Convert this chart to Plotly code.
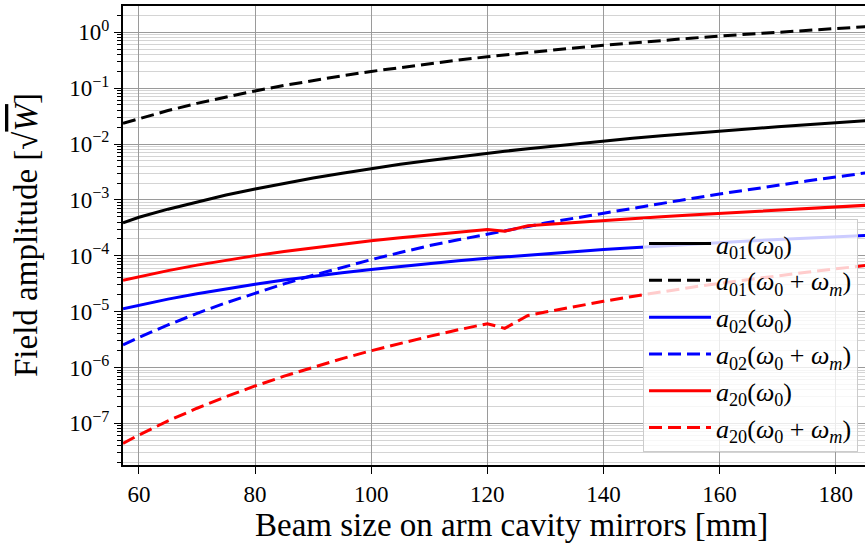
import plotly.graph_objects as go

# Beam size on the arm cavity mirrors [mm]
beam_size_mm = [57.25, 60, 65, 70, 75, 80, 85, 90, 95, 100, 105, 110, 115, 120,
                123, 127, 130, 135, 140, 145, 150, 155, 160, 165, 170, 175, 180, 185.1]

# Field amplitudes [sqrt(W)]
a01_w0 = [3.89e-4, 4.88e-4, 6.82e-4, 9.25e-4, 1.22e-3, 1.57e-3, 1.99e-3, 2.47e-3,
          3.01e-3, 3.63e-3, 4.33e-3, 5.08e-3, 5.93e-3, 6.85e-3, 7.43e-3, 8.26e-3,
          8.91e-3, 1.009e-2, 1.132e-2, 1.265e-2, 1.403e-2, 1.552e-2, 1.706e-2,
          1.871e-2, 2.042e-2, 2.218e-2, 2.404e-2, 2.600e-2]
a01_w0_wm = [0.02344, 0.02858, 0.03972, 0.05346, 0.06998, 0.08933, 0.1119, 0.1377,
             0.1667, 0.1995, 0.2355, 0.2754, 0.3184, 0.3648, 0.3945, 0.4355, 0.4677,
             0.5248, 0.5848, 0.6486, 0.7145, 0.7834, 0.8570, 0.9311, 1.009, 1.089,
             1.175, 1.262]
a02_w0 = [1.122e-5, 1.303e-5, 1.671e-5, 2.094e-5, 2.570e-5, 3.090e-5, 3.673e-5,
          4.295e-5, 4.966e-5, 5.689e-5, 6.457e-5, 7.261e-5, 8.110e-5, 8.995e-5,
          9.528e-5, 1.028e-4, 1.086e-4, 1.186e-4, 1.288e-4, 1.390e-4, 1.500e-4,
          1.607e-4, 1.722e-4, 1.837e-4, 1.950e-4, 2.065e-4, 2.188e-4, 2.312e-4]
a02_w0_wm = [2.547e-6, 3.459e-6, 5.781e-6, 9.290e-6, 1.439e-5, 2.153e-5, 3.141e-5,
             4.467e-5, 6.223e-5, 8.511e-5, 1.143e-4, 1.514e-4, 1.928e-4, 2.455e-4,
             2.818e-4, 3.350e-4, 3.846e-4, 4.732e-4, 5.821e-4, 7.112e-4, 8.670e-4,
             1.052e-3, 1.274e-3, 1.531e-3, 1.828e-3, 2.173e-3, 2.570e-3, 3.034e-3]
a20_w0 = [3.631e-5, 4.217e-5, 5.420e-5, 6.792e-5, 8.337e-5, 1.005e-4, 1.194e-4,
          1.396e-4, 1.618e-4, 1.854e-4, 2.104e-4, 2.371e-4, 2.649e-4, 2.938e-4,
          2.754e-4, 3.428e-4, 3.614e-4, 3.936e-4, 4.266e-4, 4.613e-4, 4.977e-4,
          5.358e-4, 5.754e-4, 6.166e-4, 6.592e-4, 7.031e-4, 7.499e-4, 7.980e-4]
a20_w0_wm = [4.385e-8, 6.194e-8, 1.104e-7, 1.862e-7, 3.006e-7, 4.667e-7, 6.982e-7,
             1.016e-6, 1.439e-6, 1.995e-6, 2.704e-6, 3.606e-6, 4.721e-6, 6.081e-6,
             5.012e-6, 8.511e-6, 9.817e-6, 1.233e-5, 1.528e-5, 1.871e-5, 2.265e-5,
             2.710e-5, 3.214e-5, 3.776e-5, 4.395e-5, 5.082e-5, 5.834e-5, 6.668e-5]

series_names = [
    "<i>a</i><sub>01</sub>(<i>ω</i><sub>0</sub>)",
    "<i>a</i><sub>01</sub>(<i>ω</i><sub>0</sub> + <i>ω<sub>m</sub></i>)",
    "<i>a</i><sub>02</sub>(<i>ω</i><sub>0</sub>)",
    "<i>a</i><sub>02</sub>(<i>ω</i><sub>0</sub> + <i>ω<sub>m</sub></i>)",
    "<i>a</i><sub>20</sub>(<i>ω</i><sub>0</sub>)",
    "<i>a</i><sub>20</sub>(<i>ω</i><sub>0</sub> + <i>ω<sub>m</sub></i>)",
]
series_values = [a01_w0, a01_w0_wm, a02_w0, a02_w0_wm, a20_w0, a20_w0_wm]
series_colors = ["#000000", "#000000", "#0000ff", "#0000ff", "#ff0000", "#ff0000"]
series_dash = ["solid", "13px,6px", "solid", "13px,6px", "solid", "13px,6px"]

x_ticks = [60, 80, 100, 120, 140, 160, 180]
y_tick_vals = [1e-7, 1e-6, 1e-5, 1e-4, 1e-3, 1e-2, 1e-1, 1e0]
y_tick_text = ["10<sup>−7</sup>", "10<sup>−6</sup>", "10<sup>−5</sup>", "10<sup>−4</sup>",
               "10<sup>−3</sup>", "10<sup>−2</sup>", "10<sup>−1</sup>", "10<sup>0</sup>"]

SERIF = "Liberation Serif"

fig = go.Figure()
for name, vals, col, dash in zip(series_names, series_values, series_colors, series_dash):
    fig.add_trace(go.Scatter(
        x=beam_size_mm, y=vals, mode="lines", name=name,
        line=dict(color=col, width=3, dash=dash),
    ))

minor_vals = [m * 10.0 ** e for e in range(-8, 1) for m in range(2, 10)]

fig.update_layout(
    width=865, height=546,
    margin=dict(l=123, r=0, t=6, b=81),
    paper_bgcolor="white", plot_bgcolor="white",
    font=dict(family=SERIF, size=23, color="black"),
    showlegend=True,
    legend=dict(
        x=0.9906, y=0.028, xanchor="right", yanchor="bottom",
        bgcolor="rgba(255,255,255,0.8)", bordercolor="#cccccc", borderwidth=1,
        font=dict(family=SERIF, size=26, color="black"),
        itemwidth=62, tracegroupgap=0,
    ),
    xaxis=dict(
        type="linear", range=[57.25, 185.05],
        tickmode="array", tickvals=x_ticks,
        ticks="outside", ticklen=7, tickwidth=1.3, tickcolor="black",
        showline=True, linecolor="black", linewidth=2, mirror=True,
        showgrid=True, gridcolor="#9a9a9a", gridwidth=0.8,
        zeroline=False,
        tickfont=dict(family=SERIF, size=23, color="black"),
    ),
    yaxis=dict(
        type="log", range=[-7.746, 0.471],
        tickmode="array", tickvals=y_tick_vals, ticktext=y_tick_text,
        ticks="outside", ticklen=7, tickwidth=1.3, tickcolor="black",
        showline=True, linecolor="black", linewidth=2, mirror=False,
        showgrid=True, gridcolor="#9a9a9a", gridwidth=0.8,
        zeroline=False,
        tickfont=dict(family=SERIF, size=23, color="black"),
        minor=dict(
            tickmode="array", tickvals=minor_vals,
            ticks="outside", ticklen=4, tickwidth=1, tickcolor="black",
            showgrid=True, gridcolor="#d4d4d4", gridwidth=0.8,
        ),
    ),
    annotations=[
        dict(text="Beam size on arm cavity mirrors [mm]", xref="paper", yref="paper",
             x=(511 - 123) / 742, y=-(525 - 465) / 459, xanchor="center", yanchor="middle",
             showarrow=False, font=dict(family=SERIF, size=33, color="black")),
        dict(text="Field amplitude [√<span style='text-decoration:overline'><i>W</i></span>]",
             xref="paper", yref="paper",
             x=(26 - 123) / 742, y=(465 - 235) / 459, xanchor="center", yanchor="middle",
             textangle=-90, showarrow=False,
             font=dict(family=SERIF, size=33, color="black")),
    ],
)

fig.write_html("out.html")
